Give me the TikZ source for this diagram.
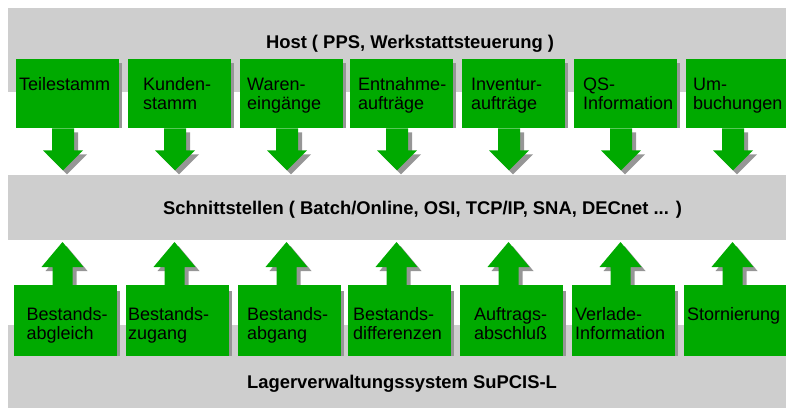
\documentclass[tikz,border=0pt]{standalone}
\usepackage{fontspec}
\setmainfont{Liberation Sans}
\usetikzlibrary{calc}
\definecolor{boxgreen}{RGB}{0,170,0}
\definecolor{bandgray}{RGB}{206,206,206}
\definecolor{shadowgray}{RGB}{150,150,150}
\pgfdeclarelayer{bands}
\pgfdeclarelayer{arrows}
\pgfsetlayers{bands,arrows,main}

\begin{document}
\begin{tikzpicture}[x=1pt,y=-1pt,
  band/.style={fill=bandgray, inner sep=0pt, anchor=north west, minimum width=778pt},
  greenbox/.style={fill=boxgreen, inner sep=0pt, minimum width=103pt, anchor=north west},
  % the base anchor of a two-line label sits on its last line
  boxtext/.style={inner sep=0pt, anchor=base west, align=left,
    font=\fontsize{18}{19.8}\selectfont},
  bandtext/.style={inner sep=0pt, anchor=base, font=\fontsize{18.4}{20}\selectfont\bfseries},
  % block arrow pointing down, origin at the middle of the shaft's upper end
  pics/downarrow/.style={code={
    \fill[shadowgray] (-7,4) -- (-7,26) -- (-16,26) -- (4,46) -- (24,26) -- (15,26) -- (15,4) -- cycle;
    \fill[boxgreen] (-11,0) -- (-11,22) -- (-20,22) -- (0,42) -- (20,22) -- (11,22) -- (11,0) -- cycle;
  }},
  % block arrow pointing up, origin at the middle of the shaft's lower end
  pics/uparrow/.style={code={
    \fill[shadowgray] (-6,4) -- (-6,-14) -- (-17,-14) -- (4,-39) -- (25,-14) -- (14,-14) -- (14,4) -- cycle;
    \fill[boxgreen] (-10,0) -- (-10,-18) -- (-21,-18) -- (0,-43) -- (21,-18) -- (10,-18) -- (10,0) -- cycle;
  }},
]
\useasboundingbox (0,0) rectangle (786,408);

% grey layers
\begin{pgfonlayer}{bands}
  \node[band, minimum height=84pt] (host) at (8,8) {};
  \node[band, minimum height=65pt] (iface) at (8,175) {};
  \node[band, minimum height=83pt] (lvs) at (8,325) {};
\end{pgfonlayer}

\node[bandtext] (hostlabel) at (410,48.3) {Host ( PPS, Werkstattsteuerung )};
\node[bandtext] (ifacelabel) at (422.5,214) {Schnittstellen ( Batch/Online, OSI, TCP/IP, SNA, DECnet ... )};
\node[bandtext] (lvslabel) at (402,388) {Lagerverwaltungssystem SuPCIS-L};

% upper row: data coming from the host
\foreach \x/\n in {16/1,128/2,240/3,350/4,462/5,574/6,686/7} {
  \node[greenbox, minimum height=69pt] (t\n) at (\x,59) {};
  \fill[shadowgray] ($(t\n.north east)+(0,4)$) rectangle ($(t\n.south east)+(2.5,0)$);
  \begin{pgfonlayer}{arrows}
    \pic at ($(t\n.south west)+(47,0)$) {downarrow};
  \end{pgfonlayer}
}
\node[boxtext] (t1text) at (19,90) {Teilestamm};
\node[boxtext] (t2text) at (143,109.8) {Kunden-\\stamm};
\node[boxtext] (t3text) at (247,109.8) {Waren-\\eingänge};
\node[boxtext] (t4text) at (358,109.8) {Entnahme-\\aufträge};
\node[boxtext] (t5text) at (471,109.8) {Inventur-\\aufträge};
\node[boxtext] (t6text) at (583,109.8) {QS-\\Information};
\node[boxtext] (t7text) at (693,109.8) {Um-\\buchungen};

% lower row: feedback from the warehouse system
\foreach \x/\n in {14/1,126/2,238/3,348/4,460/5,572/6,684/7} {
  \node[greenbox, minimum height=71pt] (b\n) at (\x,285) {};
  \fill[shadowgray] ($(b\n.north east)+(0,6)$) rectangle ($(b\n.south east)+(2.5,0)$);
  \begin{pgfonlayer}{arrows}
    \pic at ($(b\n.north west)+(48.5,0)$) {uparrow};
  \end{pgfonlayer}
}
\node[boxtext] (b1text) at (26.5,339.8) {Bestands-\\abgleich};
\node[boxtext] (b2text) at (128,339.8) {Bestands-\\zugang};
\node[boxtext] (b3text) at (247,339.8) {Bestands-\\abgang};
\node[boxtext] (b4text) at (353,339.8) {Bestands-\\differenzen};
\node[boxtext] (b5text) at (474,339.8) {Auftrags-\\abschluß};
\node[boxtext] (b6text) at (575,339.8) {Verlade-\\Information};
\node[boxtext] (b7text) at (687,320) {Stornierung};
\end{tikzpicture}
\end{document}
